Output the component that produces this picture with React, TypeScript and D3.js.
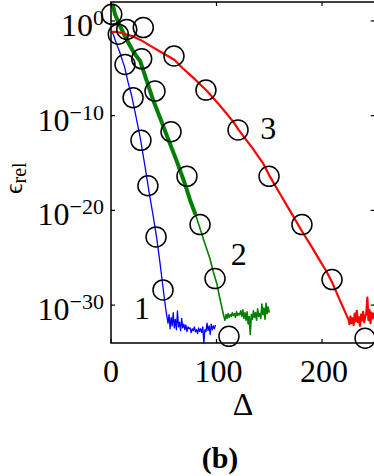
import React, { useRef, useEffect } from "react";
import * as d3 from "d3";

// values are [delta, log10(eps_rel)]
// curve 1 (blue)
const curve1 = [
  [1, -1.1], [3, -1.7], [5.5, -2.5], [8, -3.2], [10, -3.9], [13, -4.9], [16, -6.4],
  [19.6, -7.9], [23.5, -10], [27.5, -12.2], [32, -15.2], [36.3, -18.2], [40, -20.6],
  [43.3, -22.9], [46.5, -25.6], [49.6, -28.4], [52, -30.5], [54, -31.9]
];
const floor1 = [
  [55, -31.0], [56, -32.5], [57, -31.3], [58, -32.2], [59, -30.8], [60, -32.4], [61, -31.5],
  [62, -32.6], [63, -30.6], [64, -32.3], [65, -31.8], [66, -32.7], [67, -31.4], [68, -32.4],
  [69, -32.0], [70, -32.6], [71, -32.1], [72, -32.8], [73, -32.3], [74, -32.5], [75, -32.4],
  [76, -32.9], [77, -32.5], [78, -32.7], [79, -32.3], [80, -32.8], [81, -32.6], [82, -33.0],
  [83, -32.4], [84, -32.8], [85, -32.5], [86, -32.9], [87, -32.3], [88, -34.0], [89, -32.6],
  [90, -32.8], [91, -31.9], [92, -32.7], [93, -32.2], [94, -33.1], [95, -32.0], [96, -32.6],
  [97, -32.2], [98, -32.5], [99, -32.1]
];
const marks1 = [
  [0.7, 0.7], [6.9, -1.4], [13.3, -4.6], [20.9, -8.1], [28.4, -12.6], [35, -17.4], [42.7, -22.8], [49.3, -28.4]
];

// curve 2 (green)
const curve2 = [
  [1.5, 1.8], [3.8, 0.7], [7.6, -0.3], [12.3, -1.4], [16.5, -2.3], [20.9, -3.2], [24, -3.7],
  [27.5, -4.2], [33.8, -6.3], [40.1, -8.4], [46.4, -10.2], [54.3, -12.5], [62.3, -14.8],
  [70.1, -17.2], [74.9, -18.9], [80, -20.4], [84.4, -21.9], [89, -23.5], [93.8, -25.1],
  [97, -26.5], [100.5, -27.8], [103, -29.2], [105.2, -30.3], [107, -31.2]
];
const floor2 = [
  [108, -31.6], [109, -31.0], [110, -31.4], [111, -30.9], [112, -31.3], [113, -31.0], [114, -31.2],
  [115, -30.8], [116, -31.1], [117, -30.9], [118, -31.3], [119, -30.7], [120, -31.1], [121, -30.9],
  [122, -31.0], [123, -30.6], [124, -31.2], [125, -30.5], [126, -31.4], [127, -30.8], [128, -31.6],
  [129, -30.7], [130, -32.0], [131, -31.2], [132, -33.1], [133, -31.0], [134, -31.5], [135, -30.6],
  [136, -31.3], [137, -30.8], [138, -31.6], [139, -30.4], [140, -31.2], [141, -30.9], [142, -31.4],
  [143, -29.9], [144, -31.0], [145, -30.3], [146, -31.5], [147, -29.8], [148, -30.9], [149, -30.2],
  [150, -30.8]
];
const marks2 = [
  [14.9, -0.9], [29.1, -4.0], [41.7, -7.4], [56.9, -11.7], [72, -16.4], [84.4, -21.5], [98.6, -27.2], [111.8, -33.3]
];

// curve 3 (red)
const curve3 = [
  [0.5, -1.15], [5, -1.15], [11, -1.3], [20, -1.6], [28, -2.0], [37, -2.6], [46, -3.2],
  [60, -4.1], [68, -5.0], [80, -6.2], [91, -7.4], [103, -8.9], [115.6, -10.6], [121, -11.5],
  [134.6, -13.5], [144, -15.0], [150, -16.3], [161, -18.4], [170, -20.1], [181, -22.2],
  [190, -23.8], [198, -25.3], [204, -26.4], [210, -27.7], [217, -29.5], [224.6, -31.4]
];
const floor3 = [
  [225, -31.5], [226, -32.0], [227, -31.2], [228, -31.9], [229, -31.4], [230, -32.1], [231, -30.9],
  [232, -31.7], [233, -30.6], [234, -31.8], [235, -31.3], [236, -32.2], [237, -31.0], [238, -31.6],
  [239, -30.7], [240, -31.8], [241, -31.2], [242, -30.9], [243, -29.2], [244, -31.6], [245, -30.5],
  [246, -31.9], [247, -30.8], [248, -31.4], [249, -30.9], [250, -31.3]
];
const marks3 = [
  [30.6, -0.7], [59.7, -3.7], [90, -7.3], [120.4, -11.5], [149.8, -16.4], [181, -21.5], [209.5, -27.3], [240.8, -33.5]
];

const curveLabels = ["1", "2", "3"];
const curveLabelPos = [[29.4, -31.5], [121, -25.8], [149, -12.5]];

const xTicks = [0, 100, 200];
const yTickExps = [0, -10, -20, -30];

const App = () => {
  const svgRef = useRef(null);
  const width = 374;
  const height = 476;

  useEffect(() => {
    const svg = d3.select(svgRef.current);
    svg.selectAll("*").remove();

    const xScale = d3.scaleLinear().domain([0, 250]).range([111, 374.75]);
    const yScale = d3.scaleLog().domain([1e-34, 1e2]).range([343, 2]);
    const yOf = (e: number) => yScale(Math.pow(10, e));

    const myLine = d3.line<number[]>()
      .x(d => xScale(d[0]))
      .y(d => yOf(d[1]));

    // curves
    const drawPath = (data: number[][], color: string, w: number) => {
      svg.append("path")
        .datum(data)
        .attr("d", myLine)
        .attr("fill", "none")
        .attr("stroke", color)
        .attr("stroke-width", w)
        .attr("stroke-linejoin", "round");
    };

    drawPath(curve1.concat(floor1), "#0000ff", 1.3);
    drawPath(curve2.concat(floor2), "#008000", 1.6);
    // the green curve is a thick band in its upper part
    drawPath(curve2.filter(d => d[0] <= 80), "#008000", 4);
    drawPath(curve3.concat(floor3), "#ff0000", 2.2);

    // circle markers
    [marks1, marks2, marks3].forEach(m => {
      svg.append("g")
        .selectAll("circle")
        .data(m)
        .join("circle")
        .attr("cx", d => xScale(d[0]))
        .attr("cy", d => yOf(d[1]))
        .attr("r", 10)
        .attr("fill", "none")
        .attr("stroke", "black")
        .attr("stroke-width", 1.5);
    });

    // frame
    const [x0, x1] = xScale.range();
    const [yb, yt] = yScale.range();
    svg.append("rect")
      .attr("x", x0).attr("y", yt)
      .attr("width", x1 - x0).attr("height", yb - yt)
      .attr("fill", "none").attr("stroke", "black").attr("stroke-width", 1.5);

    // ticks
    const tickLen = 4;
    yTickExps.forEach(e => {
      const yy = yOf(e);
      svg.append("line").attr("x1", x0).attr("x2", x0 + tickLen).attr("y1", yy).attr("y2", yy)
        .attr("stroke", "black").attr("stroke-width", 1.2);
      svg.append("line").attr("x1", x1 - tickLen).attr("x2", x1).attr("y1", yy).attr("y2", yy)
        .attr("stroke", "black").attr("stroke-width", 1.2);
      const t = svg.append("text")
        .attr("class", "tx")
        .attr("x", 104).attr("y", yy + 15)
        .attr("text-anchor", "end")
        .attr("font-size", 32);
      t.append("tspan").text("10");
      t.append("tspan").attr("font-size", 22).attr("dy", -11).text(e === 0 ? "0" : "\u2212" + (-e));
    });
    xTicks.forEach(v => {
      const xx = xScale(v);
      svg.append("line").attr("x1", xx).attr("x2", xx).attr("y1", yb).attr("y2", yb - tickLen)
        .attr("stroke", "black").attr("stroke-width", 1.2);
      svg.append("line").attr("x1", xx).attr("x2", xx).attr("y1", yt).attr("y2", yt + tickLen)
        .attr("stroke", "black").attr("stroke-width", 1.2);
      svg.append("text")
        .attr("class", "tx")
        .attr("x", xx + (v === 0 ? 0 : 2)).attr("y", 382)
        .attr("text-anchor", "middle")
        .attr("font-size", 32)
        .text(v);
    });

    // curve numbers
    svg.append("g")
      .selectAll("text")
      .data(curveLabels)
      .join("text")
      .attr("class", "tx")
      .attr("x", (d, i) => xScale(curveLabelPos[i][0]))
      .attr("y", (d, i) => yOf(curveLabelPos[i][1]))
      .attr("text-anchor", "middle")
      .attr("font-size", 32)
      .text(d => d);

    // axis labels
    svg.append("text")
      .attr("class", "tx")
      .attr("x", 243).attr("y", 415)
      .attr("text-anchor", "middle")
      .attr("font-size", 32)
      .text("\u0394");

    const yl = svg.append("text")
      .attr("class", "tx")
      .attr("transform", "translate(22,194) rotate(-90)")
      .attr("font-size", 26);
    yl.append("tspan").text("\u03f5");
    yl.append("tspan").attr("font-size", 20).attr("dy", 4).text("rel");

    svg.append("text")
      .attr("class", "tx")
      .attr("x", 220).attr("y", 468)
      .attr("text-anchor", "middle")
      .attr("font-weight", "bold")
      .attr("font-size", 30)
      .text("(b)");
  }, []);

  return (
    <div style={{ position: "absolute", left: 0, top: 0, width: width, height: height }}>
      <style>{`.tx { font-family: "Liberation Serif", "Times New Roman", "DejaVu Serif", serif; }`}</style>
      <svg ref={svgRef} width={width} height={height} style={{ display: "block" }} />
    </div>
  );
};

export default App;
